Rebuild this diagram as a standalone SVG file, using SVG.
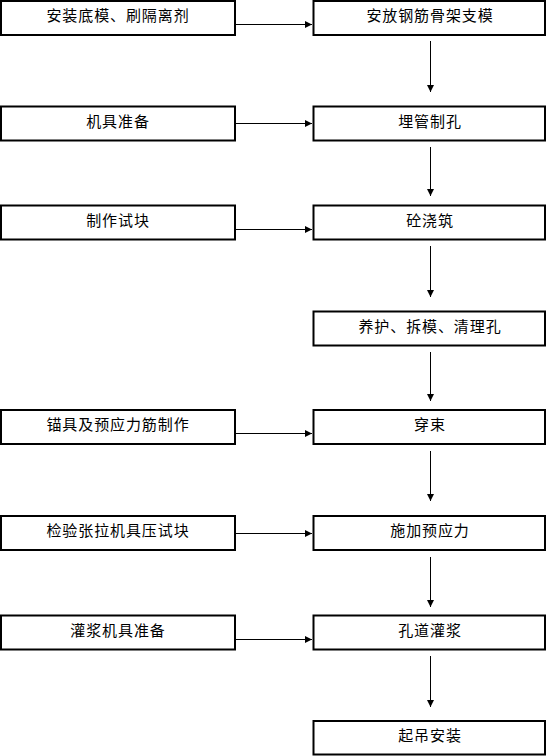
<svg xmlns="http://www.w3.org/2000/svg" width="547" height="756" viewBox="0 0 547 756">
<style>
.box{fill:#fff;stroke:#000;stroke-width:2}
.t{font-family:"Noto Sans CJK SC","Noto Sans",sans-serif;font-size:15px;letter-spacing:0.9px;text-anchor:middle;dominant-baseline:central;fill:#000}
.c{stroke:#000;stroke-width:1;fill:none;marker-end:url(#ah)}
</style>
<defs>
<marker id="ah" markerUnits="userSpaceOnUse" markerWidth="8" markerHeight="8" refX="7" refY="3.5" orient="auto">
<path d="M0,0 L7,3.5 L0,7 Z" fill="#000"/>
</marker>
</defs>
<g id="connectors">
<line class="c" x1="236" y1="24.5" x2="312" y2="24.5"/>
<line class="c" x1="236" y1="123.5" x2="312" y2="123.5"/>
<line class="c" x1="236" y1="229.5" x2="312" y2="229.5"/>
<line class="c" x1="236" y1="433.5" x2="312" y2="433.5"/>
<line class="c" x1="236" y1="533.5" x2="312" y2="533.5"/>
<line class="c" x1="236" y1="639.5" x2="312" y2="639.5"/>
<line class="c" x1="430.5" y1="41" x2="430.5" y2="92"/>
<line class="c" x1="430.5" y1="147" x2="430.5" y2="196"/>
<line class="c" x1="430.5" y1="246" x2="430.5" y2="297"/>
<line class="c" x1="430.5" y1="352" x2="430.5" y2="401"/>
<line class="c" x1="430.5" y1="451" x2="430.5" y2="501"/>
<line class="c" x1="430.5" y1="557" x2="430.5" y2="607"/>
<line class="c" x1="430.5" y1="656" x2="430.5" y2="707"/>
</g>
<g id="n1"><rect class="box" x="1" y="1" width="234" height="34"/><text class="t" x="118" y="14">安装底模、刷隔离剂</text></g>
<g id="n2"><rect class="box" x="313.5" y="1" width="231.5" height="34"/><text class="t" x="430" y="14">安放钢筋骨架支模</text></g>
<g id="n3"><rect class="box" x="1" y="106.5" width="234" height="34"/><text class="t" x="118" y="120">机具准备</text></g>
<g id="n4"><rect class="box" x="313.5" y="106.5" width="231.5" height="34"/><text class="t" x="430" y="120">埋管制孔</text></g>
<g id="n5"><rect class="box" x="1" y="205.5" width="234" height="34"/><text class="t" x="118" y="219">制作试块</text></g>
<g id="n6"><rect class="box" x="313.5" y="205.5" width="231.5" height="34"/><text class="t" x="430" y="219">砼浇筑</text></g>
<g id="n7"><rect class="box" x="313.5" y="311.5" width="231.5" height="34"/><text class="t" x="430" y="325">养护、拆模、清理孔</text></g>
<g id="n8"><rect class="box" x="1" y="410" width="234" height="34"/><text class="t" x="118" y="423.5">锚具及预应力筋制作</text></g>
<g id="n9"><rect class="box" x="313.5" y="410" width="231.5" height="34"/><text class="t" x="430" y="423.5">穿束</text></g>
<g id="n10"><rect class="box" x="1" y="516" width="234" height="34"/><text class="t" x="118" y="529.5">检验张拉机具压试块</text></g>
<g id="n11"><rect class="box" x="313.5" y="516" width="231.5" height="34"/><text class="t" x="430" y="529.5">施加预应力</text></g>
<g id="n12"><rect class="box" x="1" y="615.5" width="234" height="34"/><text class="t" x="118" y="629">灌浆机具准备</text></g>
<g id="n13"><rect class="box" x="313.5" y="615.5" width="231.5" height="34"/><text class="t" x="430" y="629">孔道灌浆</text></g>
<g id="n14"><rect class="box" x="313.5" y="721" width="231.5" height="33.5"/><text class="t" x="430" y="734.5">起吊安装</text></g>
</svg>
